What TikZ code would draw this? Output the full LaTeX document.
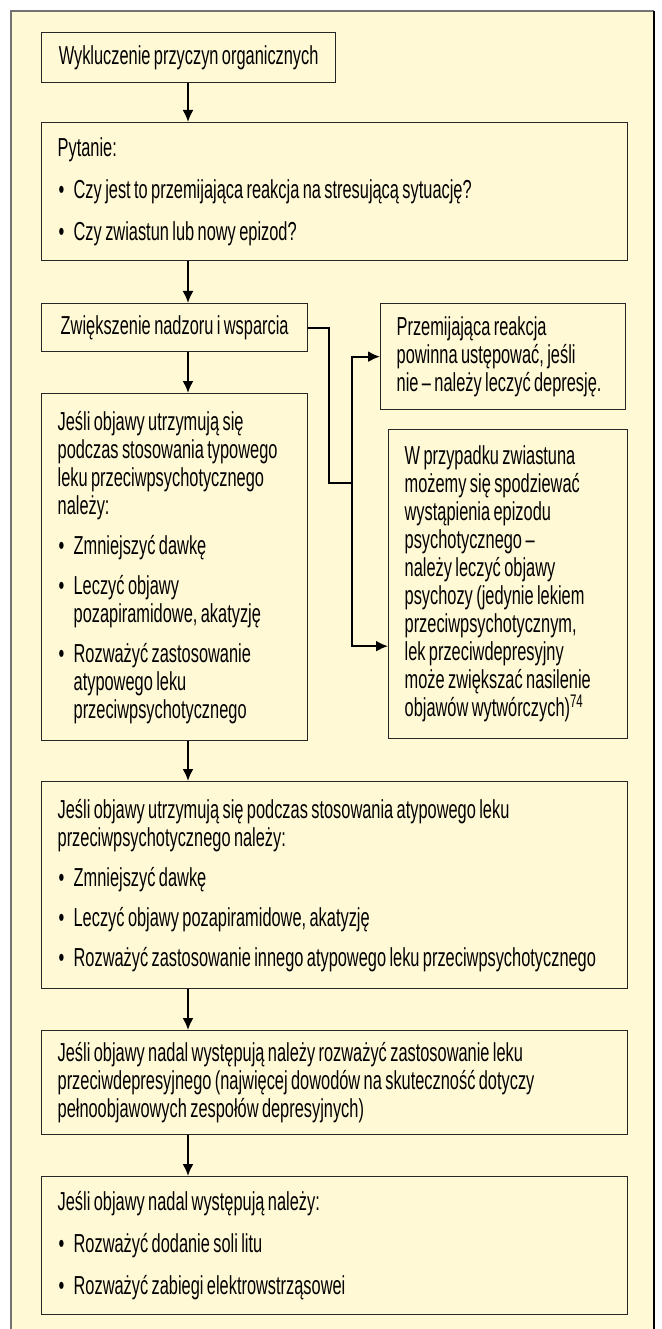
\documentclass[tikz,border=0pt]{standalone}
\usepackage{fontspec}
\setmainfont[FakeStretch=0.63, WordSpace=0.75]{Liberation Sans}
\usetikzlibrary{arrows.meta}
\definecolor{tlo}{RGB}{255,249,213}
\newcommand{\kropka}{\makebox[16pt][l]{\hspace{1pt}•}}
\newcommand{\wciecie}{\hspace*{16pt}}
\hyphenpenalty=10000
\exhyphenpenalty=10000
\begin{document}
\begin{tikzpicture}[x=1pt, y=-1pt, >={Latex[length=12pt,width=11pt]},
    ramka/.style={draw=black!85, line width=1.3pt, fill=tlo, anchor=north west,
        align=flush left, inner xsep=16pt, inner ysep=0pt,
        font=\fontsize{26}{28}\selectfont},
    strzalka/.style={->, line width=2pt},
    linia/.style={line width=2pt}]
    \useasboundingbox (0,0) rectangle (661,1329);
    % Tło i obramowanie
    \fill[tlo] (11,11) rectangle (654,1340);
    \draw[black!55, line width=1.5pt] (11,1340) -- (11,11) -- (654,11);
    \draw[black, line width=2pt] (654,11) -- (654,1340);

    % Lewa kolumna
    \node[ramka, minimum width=294pt, minimum height=50pt] (wyk) at (41,32)
        {Wykluczenie przyczyn organicznych};
    \node[ramka, text width=554pt, minimum height=138pt] (pyt) at (41,122)
        {Pytanie:\\[14pt]
         \kropka Czy jest to przemijająca reakcja na stresującą sytuację?\\[14pt]
         \kropka Czy zwiastun lub nowy epizod?};
    \node[ramka, minimum width=266pt, minimum height=48pt] (nadz) at (41,303)
        {Zwiększenie nadzoru i wsparcia};
    \node[ramka, text width=234pt, minimum height=347pt] (typ) at (41,393)
        {Jeśli objawy utrzymują się\\
         podczas stosowania typowego\\
         leku przeciwpsychotycznego\\
         należy:\\[12pt]
         \kropka Zmniejszyć dawkę\\[12pt]
         \kropka Leczyć objawy\\
         \wciecie pozapiramidowe, akatyzję\\[12pt]
         \kropka Rozważyć zastosowanie\\
         \wciecie atypowego leku\\
         \wciecie przeciwpsychotycznego};

    % Prawa kolumna
    \node[ramka, text width=213pt, minimum height=106pt] (prz) at (380,303)
        {Przemijająca reakcja\\
         powinna ustępować, jeśli\\
         nie -- należy leczyć depresję.};
    \node[ramka, text width=207pt, minimum height=309pt] (zwia) at (388,429)
        {W przypadku zwiastuna\\
         możemy się spodziewać\\
         wystąpienia epizodu\\
         psychotycznego --\\
         należy leczyć objawy\\
         psychozy (jedynie lekiem\\
         przeciwpsychotycznym,\\
         lek przeciwdepresyjny\\
         może zwiększać nasilenie\\
         objawów wytwórczych)\textsuperscript{74}};

    % Dolna część
    \node[ramka, text width=554pt, minimum height=207pt] (atyp) at (41,781)
        {Jeśli objawy utrzymują się podczas stosowania atypowego leku\\
         przeciwpsychotycznego należy:\\[12pt]
         \kropka Zmniejszyć dawkę\\[12pt]
         \kropka Leczyć objawy pozapiramidowe, akatyzję\\[12pt]
         \kropka Rozważyć zastosowanie innego atypowego leku przeciwpsychotycznego};
    \node[ramka, text width=554pt, minimum height=104pt] (depr) at (41,1030)
        {Jeśli objawy nadal występują należy rozważyć zastosowanie leku\\
         przeciwdepresyjnego (najwięcej dowodów na skuteczność dotyczy\\
         pełnoobjawowych zespołów depresyjnych)};
    \node[ramka, text width=554pt, minimum height=138pt] (lit) at (41,1176)
        {Jeśli objawy nadal występują należy:\\[14pt]
         \kropka Rozważyć dodanie soli litu\\[14pt]
         \kropka Rozważyć zabiegi elektrowstrząsowei};

    % Strzałki
    \coordinate (os) at (188,0);
    \draw[strzalka] (wyk.south -| os) -- (pyt.north -| os);
    \draw[strzalka] (pyt.south -| os) -- (nadz.north -| os);
    \draw[strzalka] (nadz.south -| os) -- (typ.north -| os);
    \draw[strzalka] (typ.south -| os) -- (atyp.north -| os);
    \draw[strzalka] (atyp.south -| os) -- (depr.north -| os);
    \draw[strzalka] (depr.south -| os) -- (lit.north -| os);

    % Rozgałęzienie w prawo
    \coordinate (rozg) at (352,483);
    \draw[linia] (nadz.east) -- ++(21,0) |- (rozg);
    \draw[strzalka] (rozg) |- (prz.west);
    \draw[strzalka] (rozg) |- ([yshift=-62pt]zwia.west);
\end{tikzpicture}
\end{document}
